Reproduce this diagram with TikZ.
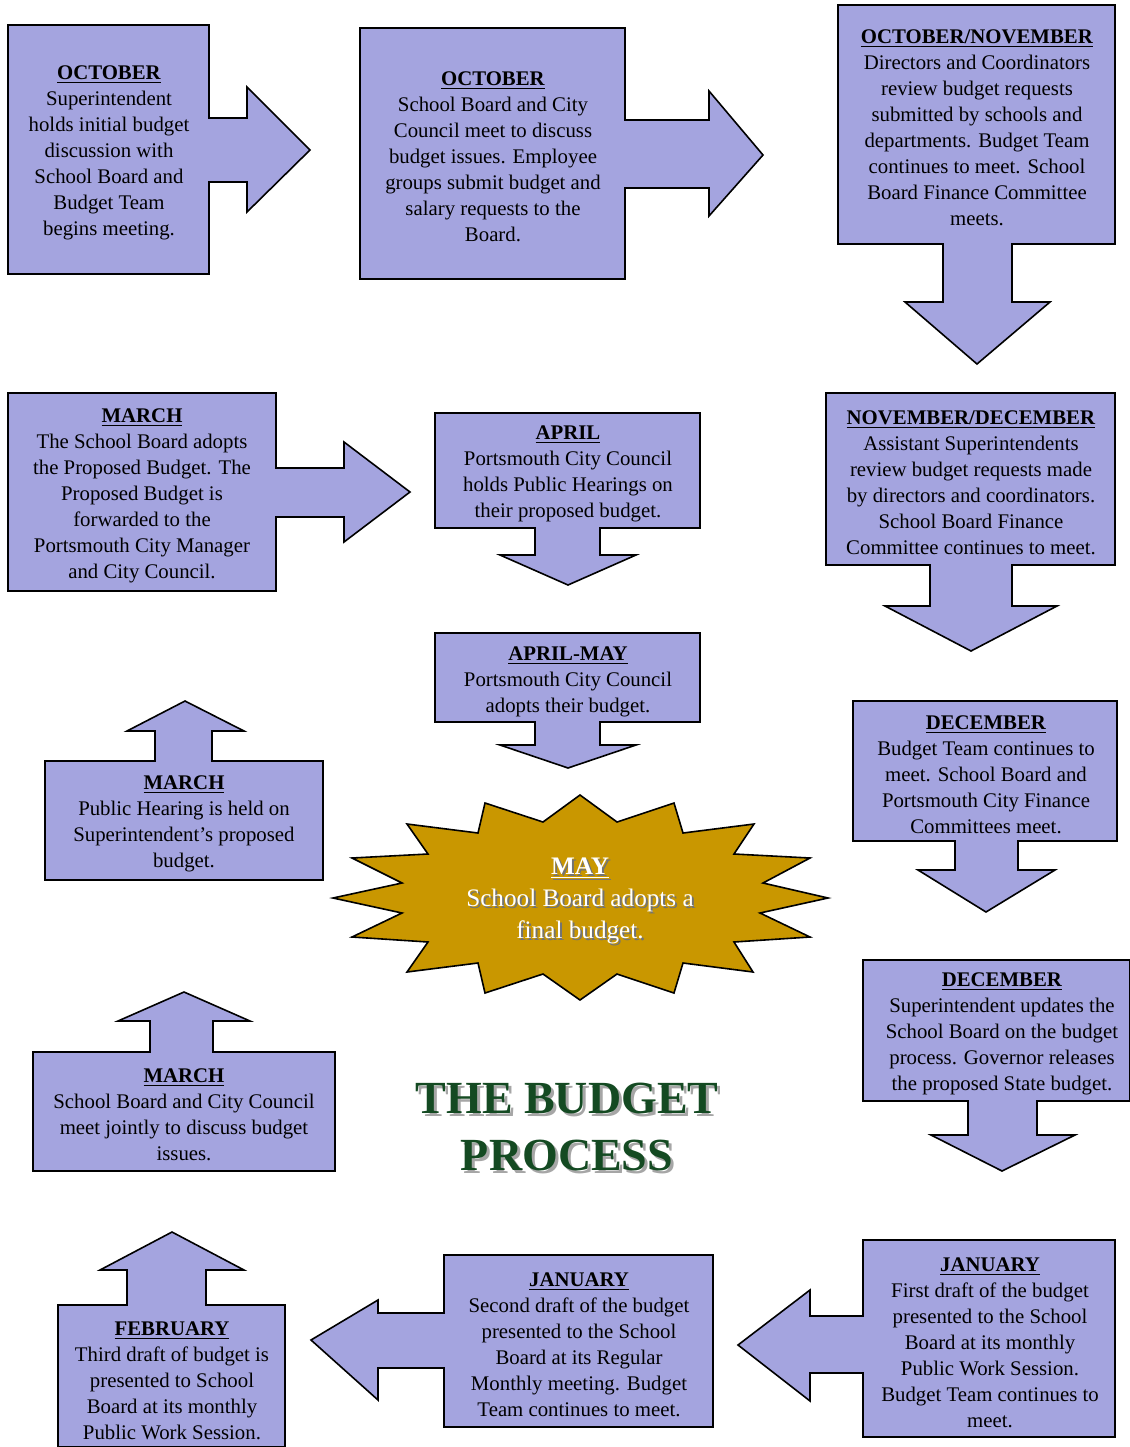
\documentclass[tikz,border=0pt]{standalone}
\usepackage{fontspec}
\setmainfont{Liberation Serif}
\definecolor{boxfill}{HTML}{A4A4DF}
\definecolor{starfill}{HTML}{C99700}
\definecolor{titlegreen}{HTML}{144A22}
\newcommand{\hdr}[1]{\underline{\textbf{#1}}}
\begin{document}
\begin{tikzpicture}[x=0.5pt,y=-0.5pt,
  callout/.style={fill=boxfill,draw=black,line width=0.8pt,line join=miter},
  txt/.style={align=center,font=\fontsize{10.4}{13}\selectfont,inner sep=0pt,yshift=-1pt},
  startxt/.style={align=center,font=\fontsize{12.6}{16}\selectfont,inner sep=0pt},
  titletxt/.style={align=center,font=\fontsize{23}{28.5}\selectfont\bfseries,inner sep=0pt}]
\useasboundingbox (0,0) rectangle (1130,1447);
% Box 1
\draw[callout] (8,25) -- (209,25) -- (209,118) -- (247,118) -- (247,87) -- (310,150) -- (247,212) -- (247,182) -- (209,182) -- (209,274) -- (8,274) -- cycle;
\node[txt] (t1) at (109,151) {\hdr{OCTOBER}\\Superintendent\\holds initial budget\\discussion with\\School Board and\\Budget Team\\begins meeting.};
% Box 2
\draw[callout] (360,28) -- (625,28) -- (625,120) -- (709,120) -- (709,91) -- (763,155) -- (709,216) -- (709,188) -- (625,188) -- (625,279) -- (360,279) -- cycle;
\node[txt] (t2) at (493,155) {\hdr{OCTOBER}\\School Board and City\\Council meet to discuss\\budget issues.  Employee\\groups submit budget and\\salary requests to the\\Board.};
% Box 3
\draw[callout] (838,5) -- (1115,5) -- (1115,244) -- (1012,244) -- (1012,302) -- (1050,302) -- (977,364) -- (905,302) -- (943,302) -- (943,244) -- (838,244) -- cycle;
\node[txt] (t3) at (977,126) {\hdr{OCTOBER/NOVEMBER}\\Directors and Coordinators\\review budget requests\\submitted by schools and\\departments.  Budget Team\\continues to meet.  School\\Board Finance Committee\\meets.};
% Box 4
\draw[callout] (826,393) -- (1115,393) -- (1115,565) -- (1012,565) -- (1012,606) -- (1057,606) -- (971,651) -- (885,606) -- (930,606) -- (930,565) -- (826,565) -- cycle;
\node[txt] (t4) at (971,480.5) {\hdr{NOVEMBER/DECEMBER}\\Assistant Superintendents\\review budget requests made\\by directors and coordinators.\\School Board Finance\\Committee continues to meet.};
% Box 5
\draw[callout] (853,701) -- (1117,701) -- (1117,841) -- (1018,841) -- (1018,870) -- (1055,870) -- (986,912) -- (918,870) -- (955,870) -- (955,841) -- (853,841) -- cycle;
\node[txt] (t5) at (986,773) {\hdr{DECEMBER}\\Budget Team continues to\\meet.  School Board and\\Portsmouth City Finance\\Committees meet.};
% Box 6
\draw[callout] (863,960) -- (1130,960) -- (1130,1101) -- (1037,1101) -- (1037,1135) -- (1075,1135) -- (1002,1171) -- (931,1135) -- (968,1135) -- (968,1101) -- (863,1101) -- cycle;
\node[txt] (t6) at (1002,1032) {\hdr{DECEMBER}\\Superintendent updates the\\School Board on the budget\\process.  Governor releases\\the proposed State budget.};
% Box 7
\draw[callout] (863,1240) -- (1115,1240) -- (1115,1437) -- (863,1437) -- (863,1373) -- (810,1373) -- (810,1401) -- (738,1345) -- (810,1290) -- (810,1316) -- (863,1316) -- cycle;
\node[txt] (t7) at (990,1341) {\hdr{JANUARY}\\First draft of the budget\\presented to the School\\Board at its monthly\\Public Work Session.\\Budget Team continues to\\meet.};
% Box 8
\draw[callout] (444,1255) -- (713,1255) -- (713,1427) -- (444,1427) -- (444,1368) -- (378,1368) -- (378,1400) -- (311,1340) -- (378,1300) -- (378,1313) -- (444,1313) -- cycle;
\node[txt] (t8) at (579,1343) {\hdr{JANUARY}\\Second draft of the budget\\presented to the School\\Board at its Regular\\Monthly meeting.  Budget\\Team continues to meet.};
% Box 9
\draw[callout] (58,1305) -- (127,1305) -- (127,1270) -- (100,1270) -- (172,1232) -- (244,1270) -- (206,1270) -- (206,1305) -- (285,1305) -- (285,1447) -- (58,1447) -- cycle;
\node[txt] (t9) at (172,1379) {\hdr{FEBRUARY}\\Third draft of budget is\\presented to School\\Board at its monthly\\Public Work Session.};
% Box 10
\draw[callout] (33,1052) -- (150,1052) -- (150,1021) -- (118,1021) -- (184,992) -- (250,1021) -- (213,1021) -- (213,1052) -- (335,1052) -- (335,1171) -- (33,1171) -- cycle;
\node[txt] (t10) at (184,1113) {\hdr{MARCH}\\School Board and City Council\\meet jointly to discuss budget\\issues.};
% Box 11
\draw[callout] (45,761) -- (155,761) -- (155,731) -- (127,731) -- (185,701) -- (244,731) -- (212,731) -- (212,761) -- (323,761) -- (323,880) -- (45,880) -- cycle;
\node[txt] (t11) at (184,822) {\hdr{MARCH}\\Public Hearing is held on\\Superintendent's proposed\\budget.};
% Box 12
\draw[callout] (8,393) -- (276,393) -- (276,468) -- (344,468) -- (344,442) -- (410,492) -- (344,542) -- (344,517) -- (276,517) -- (276,591) -- (8,591) -- cycle;
\node[txt] (t12) at (142,494) {\hdr{MARCH}\\The School Board adopts\\the Proposed Budget.  The\\Proposed Budget is\\forwarded to the\\Portsmouth City Manager\\and City Council.};
% Box 13
\draw[callout] (435,413) -- (700,413) -- (700,528) -- (600,528) -- (600,555) -- (636,555) -- (568,585) -- (500,555) -- (535,555) -- (535,528) -- (435,528) -- cycle;
\node[txt] (t13) at (568,472) {\hdr{APRIL}\\Portsmouth City Council\\holds Public Hearings on\\their proposed budget.};
% Box 14
\draw[callout] (435,633) -- (700,633) -- (700,722) -- (600,722) -- (600,745) -- (636,745) -- (568,768) -- (500,745) -- (535,745) -- (535,722) -- (435,722) -- cycle;
\node[txt] (t14) at (568,680) {\hdr{APRIL-MAY}\\Portsmouth City Council\\adopts their budget.};
% Star
\draw[fill=starfill,draw=black,line width=0.8pt,line join=miter]
 (580,795) -- (617,822) -- (674,803) -- (683,833) -- (754,824) -- (734,854) -- (810,858) -- (763,883) -- (828,898) -- (760,913) -- (810,937) -- (734,942) -- (753,972) -- (683,963) -- (674,993) -- (617,974) -- (580,1000) -- (543,974) -- (485,993) -- (478,963) -- (407,972) -- (428,942) -- (352,937) -- (402,913) -- (333,898) -- (402,883) -- (352,858) -- (428,854) -- (407,824) -- (478,833) -- (485,803) -- (543,822) -- cycle;
\node[startxt,text=black!55] (starshadow) at (582,903) {\hdr{MAY}\\School Board adopts a\\final budget.};
\node[startxt,text=white] (startext) at (580,901) {\hdr{MAY}\\School Board adopts a\\final budget.};
% Title
\node[titletxt,text=black!35] (titleshadow) at (570,1130) {THE BUDGET\\PROCESS};
\node[titletxt,text=titlegreen] (title) at (567,1127) {THE BUDGET\\PROCESS};
\end{tikzpicture}
\end{document}
